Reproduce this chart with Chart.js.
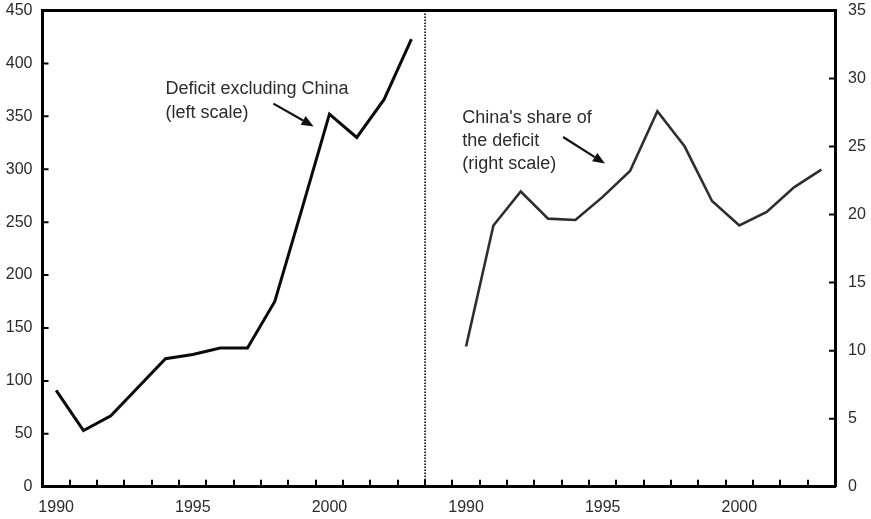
<!DOCTYPE html>
<html>
<head>
<meta charset="utf-8">
<script src="https://cdn.jsdelivr.net/npm/chart.js@4/dist/chart.umd.min.js"></script>
<style>
html,body{margin:0;padding:0;background:#fff;}
#wrap{width:871px;height:519px;position:relative;}
</style>
</head>
<body>
<div id="wrap"><canvas id="c" width="871" height="519"></canvas></div>
<script>
// ---- data ----
const years = ['1990','1991','1992','1993','1994','1995','1996','1997','1998','1999','2000','2001','2002','2003'];
const deficitExChina = [91, 53, 67, 94, 121, 125, 131, 131, 175, 263, 352, 330, 366, 423];
const chinaShare = [10.3, 19.2, 21.7, 19.7, 19.6, 21.3, 23.2, 27.6, 25.0, 21.0, 19.2, 20.2, 22.0, 23.3];
const shownYearLabels = ['1990','1995','2000'];
const leftTicks = [0,50,100,150,200,250,300,350,400,450];
const rightTicks = [0,5,10,15,20,25,30,35];
const leftNote = ['Deficit excluding China', '(left scale)'];
const rightNote = ["China's share of", 'the deficit', '(right scale)'];

// categories: left panel, one gap, right panel
const categories = years.concat([''], years);
const gap = new Array(years.length + 1).fill(null);
const leftSeries = deficitExChina.concat(gap);
const rightSeries = gap.concat(chinaShare);

const FONT = '"Liberation Sans", Arial, Helvetica, sans-serif';
const TXT = '#2b2b2b';

const decor = {
  id: 'decor',
  afterDatasetsDraw(chart) {
    const ctx = chart.ctx;
    const ca = chart.chartArea;
    const x = chart.scales.x, yl = chart.scales.yL, yr = chart.scales.yR;
    const n = categories.length;
    const half = (x.getPixelForValue(1) - x.getPixelForValue(0)) / 2;
    ctx.save();
    ctx.strokeStyle = '#000';
    // top border
    ctx.lineWidth = 3;
    ctx.beginPath();
    ctx.moveTo(ca.left - 1.5, ca.top); ctx.lineTo(ca.right + 1.5, ca.top);
    ctx.stroke();
    // inward x ticks at category boundaries
    ctx.lineWidth = 2;
    ctx.beginPath();
    for (let k = 1; k < n; k++) {
      const px = Math.round(x.getPixelForValue(k) - half);
      ctx.moveTo(px, ca.bottom); ctx.lineTo(px, ca.bottom - 7);
    }
    // inward y ticks
    leftTicks.slice(1, -1).forEach(v => {
      const py = yl.getPixelForValue(v);
      ctx.moveTo(ca.left, py); ctx.lineTo(ca.left + 6, py);
    });
    rightTicks.slice(1, -1).forEach(v => {
      const py = yr.getPixelForValue(v);
      ctx.moveTo(ca.right, py); ctx.lineTo(ca.right - 6, py);
    });
    ctx.stroke();
    // dotted separator between panels
    const sepX = x.getPixelForValue(years.length) - half;
    ctx.lineWidth = 1.6;
    ctx.setLineDash([1.6, 1.4]);
    ctx.beginPath();
    ctx.moveTo(sepX, ca.top); ctx.lineTo(sepX, ca.bottom);
    ctx.stroke();
    ctx.setLineDash([]);

    // annotations
    ctx.fillStyle = TXT;
    ctx.font = '18px ' + FONT;
    ctx.textBaseline = 'alphabetic';
    ctx.textAlign = 'left';
    const lx = x.getPixelForValue(4.0);
    const ly = yl.getPixelForValue(371.5);
    leftNote.forEach((t, i) => ctx.fillText(t, lx, ly + i * 24));
    const rx = x.getPixelForValue(14.86);
    const ry = yr.getPixelForValue(26.7);
    rightNote.forEach((t, i) => ctx.fillText(t, rx, ry + i * 23));

    // arrows
    function arrow(x1, y1, x2, y2) {
      ctx.strokeStyle = '#111';
      ctx.fillStyle = '#111';
      ctx.lineWidth = 2.2;
      const a = Math.atan2(y2 - y1, x2 - x1);
      const hl = 12, hw = 5;
      const bx = x2 - hl * Math.cos(a), by = y2 - hl * Math.sin(a);
      ctx.beginPath(); ctx.moveTo(x1, y1); ctx.lineTo(bx, by); ctx.stroke();
      ctx.beginPath();
      ctx.moveTo(x2, y2);
      ctx.lineTo(bx + hw * Math.sin(a), by - hw * Math.cos(a));
      ctx.lineTo(bx - hw * Math.sin(a), by + hw * Math.cos(a));
      ctx.closePath(); ctx.fill();
    }
    arrow(x.getPixelForValue(7.95), yl.getPixelForValue(362),
          x.getPixelForValue(9.42), yl.getPixelForValue(340.5));
    arrow(x.getPixelForValue(18.55), yr.getPixelForValue(25.7),
          x.getPixelForValue(20.08), yr.getPixelForValue(23.75));
    ctx.restore();
  }
};

function noPad(s) { s.paddingTop = 0; s.paddingBottom = 0; s.paddingLeft = 0; s.paddingRight = 0; }

new Chart(document.getElementById('c'), {
  type: 'line',
  data: {
    labels: categories,
    datasets: [
      { data: leftSeries, yAxisID: 'yL', borderColor: '#0a0a0a', borderWidth: 3, pointRadius: 0, tension: 0, spanGaps: false },
      { data: rightSeries, yAxisID: 'yR', borderColor: '#2e2e2e', borderWidth: 2.6, pointRadius: 0, tension: 0, spanGaps: false }
    ]
  },
  options: {
    responsive: false,
    animation: false,
    events: [],
    layout: { autoPadding: false, padding: { top: 10.5, left: 0, right: 0, bottom: 0 } },
    plugins: { legend: { display: false }, tooltip: { enabled: false } },
    scales: {
      x: {
        type: 'category',
        offset: true,
        grid: { display: false, drawTicks: false, tickLength: 0 },
        border: { display: true, color: '#000', width: 3 },
        ticks: {
          autoSkip: false, maxRotation: 0, minRotation: 0, padding: 11,
          color: TXT, font: { family: FONT, size: 16 },
          callback: function (v) { const l = this.getLabelForValue(v); return shownYearLabels.includes(l) ? l : ''; }
        },
        afterFit: s => { s.height = 32.3; noPad(s); }
      },
      yL: {
        position: 'left', min: 0, max: 450,
        afterBuildTicks: s => { s.ticks = leftTicks.map(v => ({ value: v })); },
        grid: { display: false, drawTicks: false, tickLength: 0 },
        border: { display: true, color: '#000', width: 3 },
        ticks: { padding: 10, color: TXT, font: { family: FONT, size: 16 } },
        afterFit: s => { s.width = 42.5; noPad(s); }
      },
      yR: {
        position: 'right', min: 0, max: 35,
        afterBuildTicks: s => { s.ticks = rightTicks.map(v => ({ value: v })); },
        grid: { display: false, drawTicks: false, tickLength: 0 },
        border: { display: true, color: '#000', width: 3 },
        ticks: { padding: 13, color: TXT, font: { family: FONT, size: 16 } },
        afterFit: s => { s.width = 36; noPad(s); }
      }
    }
  },
  plugins: [decor]
});
</script>
</body>
</html>
